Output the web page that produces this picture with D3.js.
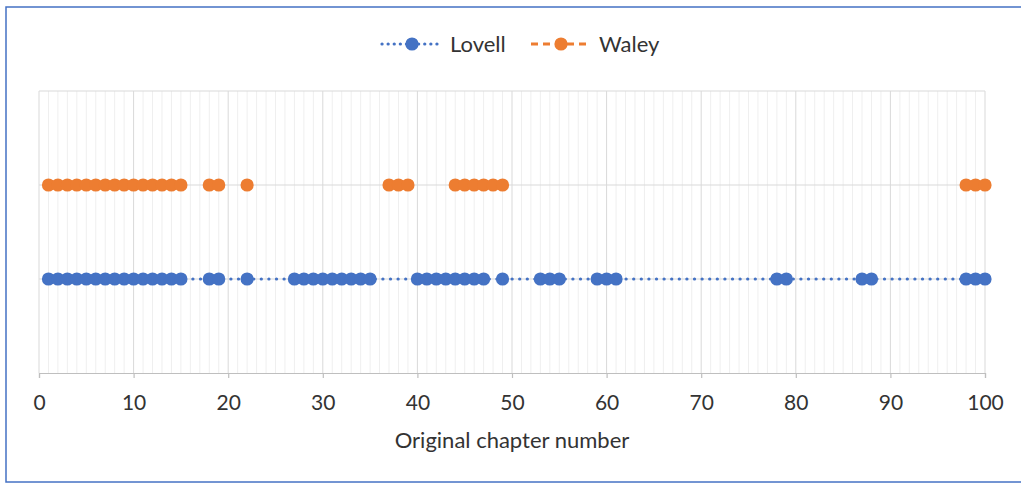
<!DOCTYPE html>
<html>
<head>
<meta charset="utf-8">
<script src="https://cdn.jsdelivr.net/npm/d3@7"></script>
<style>
  html, body { margin: 0; padding: 0; background: #ffffff; overflow: hidden; }
  svg { display: block; }
  text { font-family: Lato, "Open Sans", sans-serif; fill: #333333; }
</style>
</head>
<body>
<script>
// ---- Data ----
const seriesNames = ["Lovell", "Waley"];
const lovellChapters = [1,2,3,4,5,6,7,8,9,10,11,12,13,14,15,18,19,22,
  27,28,29,30,31,32,33,34,35,40,41,42,43,44,45,46,47,49,53,54,55,59,60,61,78,79,87,88,98,99,100];
const waleyChapters = [1,2,3,4,5,6,7,8,9,10,11,12,13,14,15,18,19,22,
  37,38,39,44,45,46,47,48,49,98,99,100];
const seriesLevels = [1, 2];
const xTickValues = [0,10,20,30,40,50,60,70,80,90,100];
const xAxisTitle = "Original chapter number";

// ---- Layout ----
const W = 1021, H = 484;
const margin = { left: 39, right: 36, top: 91, bottom: 111 };
const colors = { Lovell: "#4472C4", Waley: "#ED7D31" };

const svg = d3.select("body").append("svg").attr("width", W).attr("height", H);

// outer frame
svg.append("rect").attr("x", 6).attr("y", 7).attr("width", W + 20).attr("height", 475)
  .attr("fill", "#fff").attr("stroke", "#4472C4").attr("stroke-width", 1.5);

const x = d3.scaleLinear().domain([0, 100]).range([margin.left, W - margin.right]);
const y = d3.scaleLinear().domain([0, 3]).range([H - margin.bottom, margin.top]);

// minor vertical gridlines
svg.append("g").selectAll("line").data(d3.range(1, 100).filter(d => d % 10 !== 0)).join("line")
  .attr("x1", d => x(d)).attr("x2", d => x(d)).attr("y1", y(0)).attr("y2", y(3))
  .attr("stroke", "#efefef").attr("stroke-width", 1);
// major vertical gridlines
svg.append("g").selectAll("line").data(xTickValues).join("line")
  .attr("x1", d => x(d)).attr("x2", d => x(d)).attr("y1", y(0)).attr("y2", y(3))
  .attr("stroke", "#d9d9d9").attr("stroke-width", 1);
// horizontal gridlines
svg.append("g").selectAll("line").data([1, 2, 3]).join("line")
  .attr("x1", x(0)).attr("x2", x(100)).attr("y1", d => y(d)).attr("y2", d => y(d))
  .attr("stroke", "#d9d9d9").attr("stroke-width", 1);

// x axis
const xAxis = d3.axisBottom(x).tickValues(xTickValues).tickSize(5).tickPadding(17);
const gx = svg.append("g").attr("transform", `translate(0,${y(0)})`).call(xAxis);
gx.select(".domain").attr("stroke", "#bfbfbf").attr("stroke-width", 1.2);
gx.selectAll(".tick line").attr("stroke", "#bfbfbf").attr("stroke-width", 1.2);
gx.selectAll(".tick text").attr("font-size", 21).attr("fill", "#333333")
  .style("font-family", "Lato, 'Open Sans', sans-serif");

svg.append("text").attr("x", (x(0) + x(100)) / 2).attr("y", 448)
  .attr("text-anchor", "middle").attr("font-size", 22).text(xAxisTitle);

// series
const series = [
  { name: seriesNames[0], level: seriesLevels[0], values: lovellChapters, dash: "0.1 7.5", width: 3.2, cap: "round", breakGaps: false },
  { name: seriesNames[1], level: seriesLevels[1], values: waleyChapters, dash: "7 5", width: 2.5, cap: "butt", breakGaps: true }
];

const line = d3.line().x(d => x(d.c)).y(d => y(d.v)).defined(d => d.ok);

series.forEach(s => {
  let pts = [];
  if (s.breakGaps) {
    s.values.forEach((c, i) => {
      if (i > 0 && c - s.values[i - 1] > 1) pts.push({ c: c - 0.5, v: s.level, ok: false });
      pts.push({ c, v: s.level, ok: true });
    });
  } else {
    pts = s.values.map(c => ({ c, v: s.level, ok: true }));
  }
  svg.append("path").datum(pts).attr("d", line)
    .attr("fill", "none").attr("stroke", colors[s.name]).attr("stroke-width", s.width)
    .attr("stroke-dasharray", s.dash).attr("stroke-linecap", s.cap);
  svg.append("g").selectAll("circle").data(s.values).join("circle")
    .attr("cx", d => x(d)).attr("cy", y(s.level)).attr("r", 6.6)
    .attr("fill", colors[s.name]);
});

// legend
const legend = svg.append("g");
const legendItems = [
  { name: seriesNames[0], x0: 382, dash: "0.1 6", width: 3.2, cap: "round" },
  { name: seriesNames[1], x0: 531, dash: "7 5", width: 3, cap: "butt" }
];
legendItems.forEach(it => {
  legend.append("line").attr("x1", it.x0).attr("x2", it.x0 + 60).attr("y1", 44).attr("y2", 44)
    .attr("stroke", colors[it.name]).attr("stroke-width", it.width)
    .attr("stroke-dasharray", it.dash).attr("stroke-linecap", it.cap);
  legend.append("circle").attr("cx", it.x0 + 30).attr("cy", 44).attr("r", 6.6).attr("fill", colors[it.name]);
  legend.append("text").attr("x", it.x0 + 68).attr("y", 52).attr("font-size", 22).text(it.name);
});
</script>
</body>
</html>
